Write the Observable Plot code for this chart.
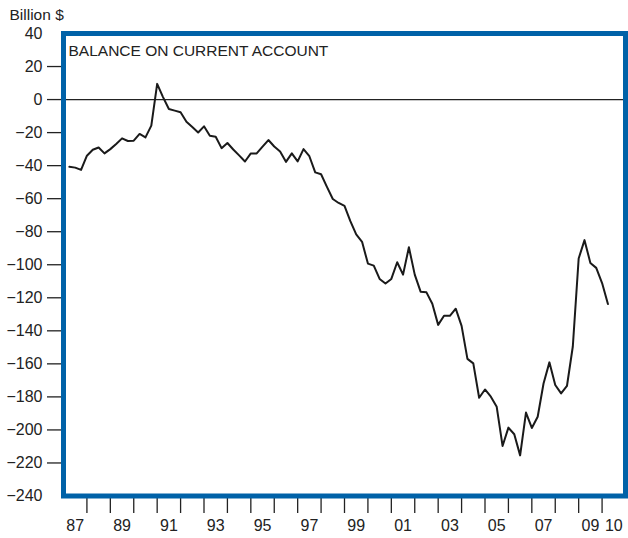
<!DOCTYPE html>
<html><head><meta charset="utf-8">
<script src="https://cdn.jsdelivr.net/npm/d3@7"></script>
<script src="https://cdn.jsdelivr.net/npm/@observablehq/plot@0.6"></script>
<style>body{margin:0;background:#fff;font-family:"Liberation Sans",Arial,sans-serif}</style>
</head><body><div id="chart"></div>
<script>
const quarters = [
  "1987Q2","1987Q3","1987Q4",
  "1988Q1","1988Q2","1988Q3","1988Q4",
  "1989Q1","1989Q2","1989Q3","1989Q4",
  "1990Q1","1990Q2","1990Q3","1990Q4",
  "1991Q1","1991Q2","1991Q3","1991Q4",
  "1992Q1","1992Q2","1992Q3","1992Q4",
  "1993Q1","1993Q2","1993Q3","1993Q4",
  "1994Q1","1994Q2","1994Q3","1994Q4",
  "1995Q1","1995Q2","1995Q3","1995Q4",
  "1996Q1","1996Q2","1996Q3","1996Q4",
  "1997Q1","1997Q2","1997Q3","1997Q4",
  "1998Q1","1998Q2","1998Q3","1998Q4",
  "1999Q1","1999Q2","1999Q3","1999Q4",
  "2000Q1","2000Q2","2000Q3","2000Q4",
  "2001Q1","2001Q2","2001Q3","2001Q4",
  "2002Q1","2002Q2","2002Q3","2002Q4",
  "2003Q1","2003Q2","2003Q3","2003Q4",
  "2004Q1","2004Q2","2004Q3","2004Q4",
  "2005Q1","2005Q2","2005Q3","2005Q4",
  "2006Q1","2006Q2","2006Q3","2006Q4",
  "2007Q1","2007Q2","2007Q3","2007Q4",
  "2008Q1","2008Q2","2008Q3","2008Q4",
  "2009Q1","2009Q2","2009Q3","2009Q4",
  "2010Q1","2010Q2"
];
const balance = [
  -40.7,-41.2,-42.6,
  -34.0,-30.4,-29.0,-32.6,
  -30.0,-26.9,-23.5,-25.1,
  -24.9,-20.8,-22.9,-15.8,
  9.5,1.5,-5.7,-6.7,
  -7.7,-13.4,-16.6,-19.9,
  -16.2,-21.9,-22.5,-29.4,
  -26.3,-30.2,-33.8,-37.5,
  -32.6,-32.6,-28.5,-24.5,
  -28.4,-31.4,-37.7,-32.6,
  -37.4,-30.0,-34.3,-44.1,
  -45.2,-52.9,-60.2,-62.6,
  -64.4,-73.6,-81.6,-86.1,
  -99.3,-100.5,-108.6,-111.4,
  -108.6,-98.5,-106.0,-89.4,
  -106.0,-116.3,-116.7,-123.6,
  -136.4,-130.9,-130.9,-126.6,
  -137.0,-157.0,-159.7,-180.5,
  -175.5,-179.9,-186.0,-209.7,
  -198.6,-202.6,-215.4,-189.5,
  -198.8,-192.0,-171.9,-159.1,
  -172.8,-177.9,-173.4,-149.5,
  -96.2,-85.1,-98.9,-101.9,
  -111.1,-123.8
];
const yLabelTicks = [40,20,0,-20,-40,-60,-80,-100,-120,-140,-160,-180,-200,-220,-240];
const yTickMarks = [20,0,-20,-40,-60,-80,-100,-120,-140,-160,-180,-200,-220];
const xTickYears = [1988,1989,1990,1991,1992,1993,1994,1995,1996,1997,1998,1999,2000,2001,2002,2003,2004,2005,2006,2007,2008,2009,2010];
const xLabelYears = [1987,1989,1991,1993,1995,1997,1999,2001,2003,2005,2007,2009,2010];
const xLabels = ["87","89","91","93","95","97","99","01","03","05","07","09","10"];
const title = "BALANCE ON CURRENT ACCOUNT";
const unit = "Billion $";

const data = quarters.map((q, i) => ({t: +q.slice(0, 4) + (+q.slice(5) - 1) / 4, v: balance[i]}));
const labelData = xLabelYears.map((y, i) => ({x: y + 0.5, label: xLabels[i]}));
const font = '"Liberation Sans", Arial, sans-serif';

const chart = Plot.plot({
  width: 628, height: 538,
  marginTop: 33, marginBottom: 42.5, marginLeft: 63, marginRight: 3,
  style: {fontFamily: font, fontSize: "16px", color: "#222", background: "#fff", overflow: "visible"},
  x: {domain: [1987, 2011]},
  y: {domain: [-240, 40]},
  marks: [
    Plot.axisY({ticks: yTickMarks, tickSize: 16, tickFormat: () => "", strokeWidth: 1.3, label: null}),
    Plot.axisY({ticks: yLabelTicks, tickSize: 0, tickPadding: 21, fontSize: 16, label: null}),
    Plot.axisX({ticks: xTickYears, tickSize: 17.5, tickFormat: () => "", strokeWidth: 1.3, label: null}),
    Plot.text(labelData, {x: "x", text: "label", frameAnchor: "bottom", dy: 30, lineAnchor: "middle", fontSize: 16, fill: "#222"}),
    Plot.ruleY([0], {stroke: "#222", strokeWidth: 1.3}),
    Plot.line(data, {x: "t", y: "v", stroke: "#1a1a1a", strokeWidth: 2}),
    Plot.text([title], {text: d => d, frameAnchor: "top-left", dx: 5, dy: 18, textAnchor: "start", lineAnchor: "middle", fontSize: 15.5, fill: "#222", style: "letter-spacing:-0.3px"}),
    Plot.text([unit], {text: d => d, frameAnchor: "top-left", dx: -54, dy: -18, textAnchor: "start", lineAnchor: "middle", fontSize: 15.5, fill: "#222"}),
    Plot.frame({stroke: "#0062a8", strokeWidth: 5})
  ]
});
document.getElementById("chart").appendChild(chart);
</script>
</body></html>
